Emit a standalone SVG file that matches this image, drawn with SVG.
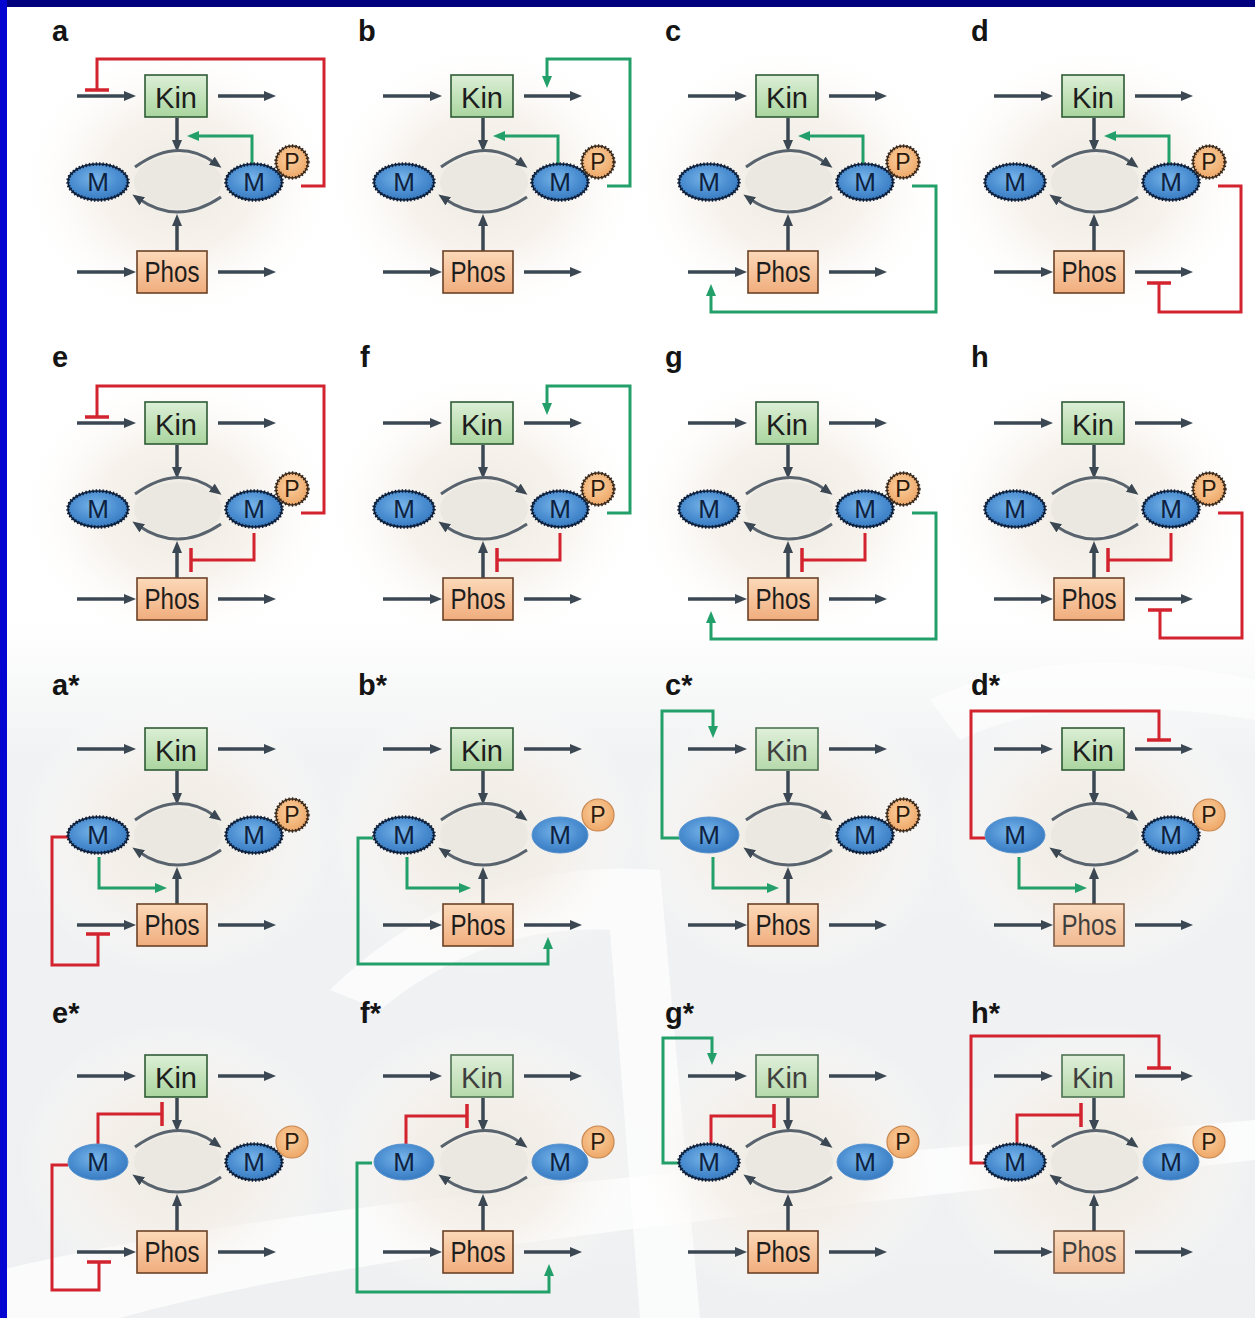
<svg xmlns="http://www.w3.org/2000/svg" xmlns:xlink="http://www.w3.org/1999/xlink" width="1255" height="1318" viewBox="0 0 1255 1318">
<defs>
  <style>
    .lbl{font-family:"Liberation Sans",Arial,sans-serif;font-weight:bold;font-size:29px;fill:#141414}
    .kt{font-family:"Liberation Sans",Arial,sans-serif;font-size:30px;fill:#1d1d1d;text-anchor:middle}
    .mt{font-family:"Liberation Sans",Arial,sans-serif;font-size:26px;fill:#0e2240;text-anchor:middle}
    .pt{font-family:"Liberation Sans",Arial,sans-serif;font-size:23px;fill:#2a1a0e;text-anchor:middle}
    .kin{fill:url(#gk);stroke:#2e5b35;stroke-width:1.6}
    .phos{fill:url(#gp);stroke:#6b4126;stroke-width:1.6}
    .glow{fill:url(#glow)}
    .core{fill:#eae8e1}
    .mw{fill:url(#gm);stroke:#0d1f3a;stroke-width:1.6}
    .mwd{fill:none;stroke:#0d1f3a;stroke-width:3.6;stroke-dasharray:1.4 2}
    .ms{fill:url(#gm);stroke:#5b95cf;stroke-width:1}
    .pw{fill:url(#gpc);stroke:#3b2a1c;stroke-width:1.4}
    .pwd{fill:none;stroke:#3b2a1c;stroke-width:3.4;stroke-dasharray:1.4 2}
    .ps{fill:url(#gpc);stroke:#c8874f;stroke-width:1.2}
    .ar{fill:none;stroke:#3b4853;stroke-width:3.5;marker-end:url(#ah)}
    .arc{fill:none;stroke:#58636d;stroke-width:3;marker-end:url(#ah)}
    .gr{fill:none;stroke:#23a06a;stroke-width:3;marker-end:url(#ahg)}
    .rd{fill:none;stroke:#d2232e;stroke-width:3;marker-end:url(#tb)}
    .fd{opacity:.84}
    .wm{fill:#e6e8ea}
  </style>
  <linearGradient id="gk" x1="0" y1="0" x2="0" y2="1">
    <stop offset="0" stop-color="#dcefd6"/>
    <stop offset="1" stop-color="#aad59f"/>
  </linearGradient>
  <linearGradient id="gp" x1="0" y1="0" x2="0" y2="1">
    <stop offset="0" stop-color="#fcd9b9"/>
    <stop offset="1" stop-color="#f0ad7d"/>
  </linearGradient>
  <radialGradient id="gm" cx=".45" cy=".4" r=".65">
    <stop offset="0" stop-color="#78b5ea"/>
    <stop offset=".6" stop-color="#4a8dd0"/>
    <stop offset="1" stop-color="#3477be"/>
  </radialGradient>
  <radialGradient id="gpc" cx=".45" cy=".4" r=".6">
    <stop offset="0" stop-color="#fbcf9f"/>
    <stop offset="1" stop-color="#eea868"/>
  </radialGradient>
  <radialGradient id="glow" cx=".5" cy=".5" r=".5">
    <stop offset="0" stop-color="#ece9e2"/>
    <stop offset=".5" stop-color="#f5efe8" stop-opacity=".8"/>
    <stop offset="1" stop-color="#ffffff" stop-opacity="0"/>
  </radialGradient>
  <linearGradient id="wash" x1="0" y1="0" x2="0" y2="1">
    <stop offset="0" stop-color="#f1f2f3" stop-opacity="0"/>
    <stop offset=".2" stop-color="#f1f2f3"/>
    <stop offset="1" stop-color="#eff0f1"/>
  </linearGradient>
  <marker id="ah" viewBox="0 0 12 10" refX="4" refY="5" markerWidth="12" markerHeight="10" markerUnits="userSpaceOnUse" orient="auto">
    <path d="M0,0L12,5L0,10z" fill="#3b4853"/>
  </marker>
  <marker id="ahg" viewBox="0 0 12 10" refX="4" refY="5" markerWidth="12" markerHeight="10" markerUnits="userSpaceOnUse" orient="auto">
    <path d="M0,0L12,5L0,10z" fill="#23a06a"/>
  </marker>
  <marker id="tb" viewBox="0 0 4 24" refX="2" refY="12" markerWidth="4" markerHeight="24" markerUnits="userSpaceOnUse" orient="auto">
    <rect x="0.25" y="0" width="3.5" height="24" fill="#d2232e"/>
  </marker>
  <!-- shared skeleton of each motif: inputs/outputs, Kin/Phos actions and the M cycle -->
  <g id="base">
    <path class="ar" d="M77,96H128"/>
    <path class="ar" d="M218,96H268"/>
    <path class="ar" d="M177,118V144"/>
    <path class="ar" d="M77,272H128"/>
    <path class="ar" d="M218,272H268"/>
    <path class="ar" d="M177,251V222"/>
    <path class="arc" d="M135,167Q178,136 215,163"/>
    <path class="arc" d="M221,197Q178,226 139,199"/>
  </g>
</defs>

<rect width="1255" height="1318" fill="#ffffff"/>

<!-- faint grey backdrop in the lower half -->
<g id="backdrop">
  <rect x="0" y="620" width="1255" height="698" fill="url(#wash)"/>
  <path fill="#ffffff" opacity=".75" d="M0,1318L0,1270C300,1200 700,1170 1255,1120L1255,1160C760,1215 360,1250 120,1318Z"/>
  <path fill="#ffffff" opacity=".7" d="M330,990C420,900 540,860 660,870L700,1318L640,1318L610,930C520,925 440,960 380,1010Z"/>
  <path fill="#ffffff" opacity=".6" d="M930,700C1010,660 1120,650 1255,680L1255,720C1130,700 1030,705 960,740Z"/>
</g>

<!-- soft halos behind each motif -->
<g id="halos">
  <ellipse class="glow" cx="178" cy="182" rx="160" ry="140"/>
  <ellipse class="glow" cx="484" cy="182" rx="160" ry="140"/>
  <ellipse class="glow" cx="789" cy="182" rx="160" ry="140"/>
  <ellipse class="glow" cx="1095" cy="182" rx="160" ry="140"/>
  <ellipse class="glow" cx="178" cy="509" rx="160" ry="140"/>
  <ellipse class="glow" cx="484" cy="509" rx="160" ry="140"/>
  <ellipse class="glow" cx="789" cy="509" rx="160" ry="140"/>
  <ellipse class="glow" cx="1095" cy="509" rx="160" ry="140"/>
  <ellipse class="glow" cx="178" cy="835" rx="160" ry="140"/>
  <ellipse class="glow" cx="484" cy="835" rx="160" ry="140"/>
  <ellipse class="glow" cx="789" cy="835" rx="160" ry="140"/>
  <ellipse class="glow" cx="1095" cy="835" rx="160" ry="140"/>
  <ellipse class="glow" cx="178" cy="1162" rx="160" ry="140"/>
  <ellipse class="glow" cx="484" cy="1162" rx="160" ry="140"/>
  <ellipse class="glow" cx="789" cy="1162" rx="160" ry="140"/>
  <ellipse class="glow" cx="1095" cy="1162" rx="160" ry="140"/>
</g>

<!-- ===== row 1 ===== -->
<g id="panel-a" transform="translate(0,0)">
  <ellipse class="core" cx="178" cy="182" rx="44" ry="27"/>
  <text class="lbl" x="52" y="41">a</text>
  <g id="a-links">
    <use xlink:href="#base"/>
    <path class="gr" d="M252,164V136H195"/>
    <path class="rd" d="M301,186H324V59H97V90"/>
  </g>
  <g id="a-kin"><rect class="kin" x="145" y="75" width="62" height="42"/><text class="kt" x="176" y="108" textLength="42" lengthAdjust="spacingAndGlyphs">Kin</text></g>
  <g id="a-phos"><rect class="phos" x="137" y="251" width="70" height="42"/><text class="kt" x="172" y="282" textLength="55" lengthAdjust="spacingAndGlyphs">Phos</text></g>
  <g id="a-m"><ellipse class="mw" cx="98" cy="182" rx="30" ry="18"/><ellipse class="mwd" cx="98" cy="182" rx="30" ry="18"/><text class="mt" x="98" y="191">M</text></g>
  <g id="a-mp"><ellipse class="mw" cx="254" cy="182" rx="28" ry="18"/><ellipse class="mwd" cx="254" cy="182" rx="28" ry="18"/><text class="mt" x="254" y="191">M</text><circle class="pw" cx="292" cy="162" r="16"/><circle class="pwd" cx="292" cy="162" r="16"/><text class="pt" x="292" y="170">P</text></g>
</g>

<g id="panel-b" transform="translate(306,0)">
  <ellipse class="core" cx="178" cy="182" rx="44" ry="27"/>
  <text class="lbl" x="52" y="41">b</text>
  <g id="b-links">
    <use xlink:href="#base"/>
    <path class="gr" d="M252,164V136H195"/>
    <path class="gr" d="M301,186H324V59H241V80"/>
  </g>
  <g id="b-kin"><rect class="kin" x="145" y="75" width="62" height="42"/><text class="kt" x="176" y="108" textLength="42" lengthAdjust="spacingAndGlyphs">Kin</text></g>
  <g id="b-phos"><rect class="phos" x="137" y="251" width="70" height="42"/><text class="kt" x="172" y="282" textLength="55" lengthAdjust="spacingAndGlyphs">Phos</text></g>
  <g id="b-m"><ellipse class="mw" cx="98" cy="182" rx="30" ry="18"/><ellipse class="mwd" cx="98" cy="182" rx="30" ry="18"/><text class="mt" x="98" y="191">M</text></g>
  <g id="b-mp"><ellipse class="mw" cx="254" cy="182" rx="28" ry="18"/><ellipse class="mwd" cx="254" cy="182" rx="28" ry="18"/><text class="mt" x="254" y="191">M</text><circle class="pw" cx="292" cy="162" r="16"/><circle class="pwd" cx="292" cy="162" r="16"/><text class="pt" x="292" y="170">P</text></g>
</g>

<g id="panel-c" transform="translate(611,0)">
  <ellipse class="core" cx="178" cy="182" rx="44" ry="27"/>
  <text class="lbl" x="54" y="41">c</text>
  <g id="c-links">
    <use xlink:href="#base"/>
    <path class="gr" d="M252,164V136H195"/>
    <path class="gr" d="M301,186H325V312H100V292"/>
  </g>
  <g id="c-kin"><rect class="kin" x="145" y="75" width="62" height="42"/><text class="kt" x="176" y="108" textLength="42" lengthAdjust="spacingAndGlyphs">Kin</text></g>
  <g id="c-phos"><rect class="phos" x="137" y="251" width="70" height="42"/><text class="kt" x="172" y="282" textLength="55" lengthAdjust="spacingAndGlyphs">Phos</text></g>
  <g id="c-m"><ellipse class="mw" cx="98" cy="182" rx="30" ry="18"/><ellipse class="mwd" cx="98" cy="182" rx="30" ry="18"/><text class="mt" x="98" y="191">M</text></g>
  <g id="c-mp"><ellipse class="mw" cx="254" cy="182" rx="28" ry="18"/><ellipse class="mwd" cx="254" cy="182" rx="28" ry="18"/><text class="mt" x="254" y="191">M</text><circle class="pw" cx="292" cy="162" r="16"/><circle class="pwd" cx="292" cy="162" r="16"/><text class="pt" x="292" y="170">P</text></g>
</g>

<g id="panel-d" transform="translate(917,0)">
  <ellipse class="core" cx="178" cy="182" rx="44" ry="27"/>
  <text class="lbl" x="54" y="41">d</text>
  <g id="d-links">
    <use xlink:href="#base"/>
    <path class="gr" d="M252,164V136H195"/>
    <path class="rd" d="M301,186H324V312H242V283"/>
  </g>
  <g id="d-kin"><rect class="kin" x="145" y="75" width="62" height="42"/><text class="kt" x="176" y="108" textLength="42" lengthAdjust="spacingAndGlyphs">Kin</text></g>
  <g id="d-phos"><rect class="phos" x="137" y="251" width="70" height="42"/><text class="kt" x="172" y="282" textLength="55" lengthAdjust="spacingAndGlyphs">Phos</text></g>
  <g id="d-m"><ellipse class="mw" cx="98" cy="182" rx="30" ry="18"/><ellipse class="mwd" cx="98" cy="182" rx="30" ry="18"/><text class="mt" x="98" y="191">M</text></g>
  <g id="d-mp"><ellipse class="mw" cx="254" cy="182" rx="28" ry="18"/><ellipse class="mwd" cx="254" cy="182" rx="28" ry="18"/><text class="mt" x="254" y="191">M</text><circle class="pw" cx="292" cy="162" r="16"/><circle class="pwd" cx="292" cy="162" r="16"/><text class="pt" x="292" y="170">P</text></g>
</g>

<!-- ===== row 2 ===== -->
<g id="panel-e" transform="translate(0,327)">
  <ellipse class="core" cx="178" cy="182" rx="44" ry="27"/>
  <text class="lbl" x="52" y="40">e</text>
  <g id="e-links">
    <use xlink:href="#base"/>
    <path class="rd" d="M254,206V233H191"/>
    <path class="rd" d="M301,186H324V59H97V90"/>
  </g>
  <g id="e-kin"><rect class="kin" x="145" y="75" width="62" height="42"/><text class="kt" x="176" y="108" textLength="42" lengthAdjust="spacingAndGlyphs">Kin</text></g>
  <g id="e-phos"><rect class="phos" x="137" y="251" width="70" height="42"/><text class="kt" x="172" y="282" textLength="55" lengthAdjust="spacingAndGlyphs">Phos</text></g>
  <g id="e-m"><ellipse class="mw" cx="98" cy="182" rx="30" ry="18"/><ellipse class="mwd" cx="98" cy="182" rx="30" ry="18"/><text class="mt" x="98" y="191">M</text></g>
  <g id="e-mp"><ellipse class="mw" cx="254" cy="182" rx="28" ry="18"/><ellipse class="mwd" cx="254" cy="182" rx="28" ry="18"/><text class="mt" x="254" y="191">M</text><circle class="pw" cx="292" cy="162" r="16"/><circle class="pwd" cx="292" cy="162" r="16"/><text class="pt" x="292" y="170">P</text></g>
</g>

<g id="panel-f" transform="translate(306,327)">
  <ellipse class="core" cx="178" cy="182" rx="44" ry="27"/>
  <text class="lbl" x="54" y="40">f</text>
  <g id="f-links">
    <use xlink:href="#base"/>
    <path class="rd" d="M254,206V233H191"/>
    <path class="gr" d="M301,186H324V59H241V80"/>
  </g>
  <g id="f-kin"><rect class="kin" x="145" y="75" width="62" height="42"/><text class="kt" x="176" y="108" textLength="42" lengthAdjust="spacingAndGlyphs">Kin</text></g>
  <g id="f-phos"><rect class="phos" x="137" y="251" width="70" height="42"/><text class="kt" x="172" y="282" textLength="55" lengthAdjust="spacingAndGlyphs">Phos</text></g>
  <g id="f-m"><ellipse class="mw" cx="98" cy="182" rx="30" ry="18"/><ellipse class="mwd" cx="98" cy="182" rx="30" ry="18"/><text class="mt" x="98" y="191">M</text></g>
  <g id="f-mp"><ellipse class="mw" cx="254" cy="182" rx="28" ry="18"/><ellipse class="mwd" cx="254" cy="182" rx="28" ry="18"/><text class="mt" x="254" y="191">M</text><circle class="pw" cx="292" cy="162" r="16"/><circle class="pwd" cx="292" cy="162" r="16"/><text class="pt" x="292" y="170">P</text></g>
</g>

<g id="panel-g" transform="translate(611,327)">
  <ellipse class="core" cx="178" cy="182" rx="44" ry="27"/>
  <text class="lbl" x="54" y="40">g</text>
  <g id="g-links">
    <use xlink:href="#base"/>
    <path class="rd" d="M254,206V233H191"/>
    <path class="gr" d="M301,186H325V312H100V292"/>
  </g>
  <g id="g-kin"><rect class="kin" x="145" y="75" width="62" height="42"/><text class="kt" x="176" y="108" textLength="42" lengthAdjust="spacingAndGlyphs">Kin</text></g>
  <g id="g-phos"><rect class="phos" x="137" y="251" width="70" height="42"/><text class="kt" x="172" y="282" textLength="55" lengthAdjust="spacingAndGlyphs">Phos</text></g>
  <g id="g-m"><ellipse class="mw" cx="98" cy="182" rx="30" ry="18"/><ellipse class="mwd" cx="98" cy="182" rx="30" ry="18"/><text class="mt" x="98" y="191">M</text></g>
  <g id="g-mp"><ellipse class="mw" cx="254" cy="182" rx="28" ry="18"/><ellipse class="mwd" cx="254" cy="182" rx="28" ry="18"/><text class="mt" x="254" y="191">M</text><circle class="pw" cx="292" cy="162" r="16"/><circle class="pwd" cx="292" cy="162" r="16"/><text class="pt" x="292" y="170">P</text></g>
</g>

<g id="panel-h" transform="translate(917,327)">
  <ellipse class="core" cx="178" cy="182" rx="44" ry="27"/>
  <text class="lbl" x="54" y="40">h</text>
  <g id="h-links">
    <use xlink:href="#base"/>
    <path class="rd" d="M254,206V233H191"/>
    <path class="rd" d="M301,186H325V311H243V283"/>
  </g>
  <g id="h-kin"><rect class="kin" x="145" y="75" width="62" height="42"/><text class="kt" x="176" y="108" textLength="42" lengthAdjust="spacingAndGlyphs">Kin</text></g>
  <g id="h-phos"><rect class="phos" x="137" y="251" width="70" height="42"/><text class="kt" x="172" y="282" textLength="55" lengthAdjust="spacingAndGlyphs">Phos</text></g>
  <g id="h-m"><ellipse class="mw" cx="98" cy="182" rx="30" ry="18"/><ellipse class="mwd" cx="98" cy="182" rx="30" ry="18"/><text class="mt" x="98" y="191">M</text></g>
  <g id="h-mp"><ellipse class="mw" cx="254" cy="182" rx="28" ry="18"/><ellipse class="mwd" cx="254" cy="182" rx="28" ry="18"/><text class="mt" x="254" y="191">M</text><circle class="pw" cx="292" cy="162" r="16"/><circle class="pwd" cx="292" cy="162" r="16"/><text class="pt" x="292" y="170">P</text></g>
</g>

<!-- ===== row 3 ===== -->
<g id="panel-a2" transform="translate(0,653)">
  <ellipse class="core" cx="178" cy="182" rx="44" ry="27"/>
  <text class="lbl" x="52" y="42">a*</text>
  <g id="a2-links">
    <use xlink:href="#base"/>
    <path class="gr" d="M99,204V235H159"/>
    <path class="rd" d="M68,184H52V312H98V281"/>
  </g>
  <g id="a2-kin"><rect class="kin" x="145" y="75" width="62" height="42"/><text class="kt" x="176" y="108" textLength="42" lengthAdjust="spacingAndGlyphs">Kin</text></g>
  <g id="a2-phos"><rect class="phos" x="137" y="251" width="70" height="42"/><text class="kt" x="172" y="282" textLength="55" lengthAdjust="spacingAndGlyphs">Phos</text></g>
  <g id="a2-m"><ellipse class="mw" cx="98" cy="182" rx="30" ry="18"/><ellipse class="mwd" cx="98" cy="182" rx="30" ry="18"/><text class="mt" x="98" y="191">M</text></g>
  <g id="a2-mp"><ellipse class="mw" cx="254" cy="182" rx="28" ry="18"/><ellipse class="mwd" cx="254" cy="182" rx="28" ry="18"/><text class="mt" x="254" y="191">M</text><circle class="pw" cx="292" cy="162" r="16"/><circle class="pwd" cx="292" cy="162" r="16"/><text class="pt" x="292" y="170">P</text></g>
</g>

<g id="panel-b2" transform="translate(306,653)">
  <ellipse class="core" cx="178" cy="182" rx="44" ry="27"/>
  <text class="lbl" x="52" y="42">b*</text>
  <g id="b2-links">
    <use xlink:href="#base"/>
    <path class="gr" d="M101,204V235H157"/>
    <path class="gr" d="M67,185H52V311H242V292"/>
  </g>
  <g id="b2-kin"><rect class="kin" x="145" y="75" width="62" height="42"/><text class="kt" x="176" y="108" textLength="42" lengthAdjust="spacingAndGlyphs">Kin</text></g>
  <g id="b2-phos"><rect class="phos" x="137" y="251" width="70" height="42"/><text class="kt" x="172" y="282" textLength="55" lengthAdjust="spacingAndGlyphs">Phos</text></g>
  <g id="b2-m"><ellipse class="mw" cx="98" cy="182" rx="30" ry="18"/><ellipse class="mwd" cx="98" cy="182" rx="30" ry="18"/><text class="mt" x="98" y="191">M</text></g>
  <g id="b2-mp"><ellipse class="ms" cx="254" cy="182" rx="28" ry="18"/><text class="mt" x="254" y="191">M</text><circle class="ps" cx="292" cy="162" r="16"/><text class="pt" x="292" y="170">P</text></g>
</g>

<g id="panel-c2" transform="translate(611,653)">
  <ellipse class="core" cx="178" cy="182" rx="44" ry="27"/>
  <text class="lbl" x="54" y="42">c*</text>
  <g id="c2-links">
    <use xlink:href="#base"/>
    <path class="gr" d="M102,204V235H160"/>
    <path class="gr" d="M70,185H51V58H102V77"/>
  </g>
  <g id="c2-kin" class="fd"><rect class="kin" x="145" y="75" width="62" height="42"/><text class="kt" x="176" y="108" textLength="42" lengthAdjust="spacingAndGlyphs">Kin</text></g>
  <g id="c2-phos"><rect class="phos" x="137" y="251" width="70" height="42"/><text class="kt" x="172" y="282" textLength="55" lengthAdjust="spacingAndGlyphs">Phos</text></g>
  <g id="c2-m"><ellipse class="ms" cx="98" cy="182" rx="30" ry="18"/><text class="mt" x="98" y="191">M</text></g>
  <g id="c2-mp"><ellipse class="mw" cx="254" cy="182" rx="28" ry="18"/><ellipse class="mwd" cx="254" cy="182" rx="28" ry="18"/><text class="mt" x="254" y="191">M</text><circle class="pw" cx="292" cy="162" r="16"/><circle class="pwd" cx="292" cy="162" r="16"/><text class="pt" x="292" y="170">P</text></g>
</g>

<g id="panel-d2" transform="translate(917,653)">
  <ellipse class="core" cx="178" cy="182" rx="44" ry="27"/>
  <text class="lbl" x="54" y="42">d*</text>
  <g id="d2-links">
    <use xlink:href="#base"/>
    <path class="gr" d="M102,204V235H162"/>
    <path class="rd" d="M72,185H54V58H242V87"/>
  </g>
  <g id="d2-kin"><rect class="kin" x="145" y="75" width="62" height="42"/><text class="kt" x="176" y="108" textLength="42" lengthAdjust="spacingAndGlyphs">Kin</text></g>
  <g id="d2-phos" class="fd"><rect class="phos" x="137" y="251" width="70" height="42"/><text class="kt" x="172" y="282" textLength="55" lengthAdjust="spacingAndGlyphs">Phos</text></g>
  <g id="d2-m"><ellipse class="ms" cx="98" cy="182" rx="30" ry="18"/><text class="mt" x="98" y="191">M</text></g>
  <g id="d2-mp"><ellipse class="mw" cx="254" cy="182" rx="28" ry="18"/><ellipse class="mwd" cx="254" cy="182" rx="28" ry="18"/><text class="mt" x="254" y="191">M</text><circle class="ps" cx="292" cy="162" r="16"/><text class="pt" x="292" y="170">P</text></g>
</g>

<!-- ===== row 4 ===== -->
<g id="panel-e2" transform="translate(0,980)">
  <ellipse class="core" cx="178" cy="182" rx="44" ry="27"/>
  <text class="lbl" x="52" y="43">e*</text>
  <g id="e2-links">
    <use xlink:href="#base"/>
    <path class="rd" d="M98,164V134H162"/>
    <path class="rd" d="M68,185H52V310H99V282"/>
  </g>
  <g id="e2-kin"><rect class="kin" x="145" y="75" width="62" height="42"/><text class="kt" x="176" y="108" textLength="42" lengthAdjust="spacingAndGlyphs">Kin</text></g>
  <g id="e2-phos"><rect class="phos" x="137" y="251" width="70" height="42"/><text class="kt" x="172" y="282" textLength="55" lengthAdjust="spacingAndGlyphs">Phos</text></g>
  <g id="e2-m"><ellipse class="ms" cx="98" cy="182" rx="30" ry="18"/><text class="mt" x="98" y="191">M</text></g>
  <g id="e2-mp"><ellipse class="mw" cx="254" cy="182" rx="28" ry="18"/><ellipse class="mwd" cx="254" cy="182" rx="28" ry="18"/><text class="mt" x="254" y="191">M</text><circle class="ps" cx="292" cy="162" r="16"/><text class="pt" x="292" y="170">P</text></g>
</g>

<g id="panel-f2" transform="translate(306,980)">
  <ellipse class="core" cx="178" cy="182" rx="44" ry="27"/>
  <text class="lbl" x="54" y="43">f*</text>
  <g id="f2-links">
    <use xlink:href="#base"/>
    <path class="rd" d="M100,164V136H161"/>
    <path class="gr" d="M66,183H51V312H243V292"/>
  </g>
  <g id="f2-kin" class="fd"><rect class="kin" x="145" y="75" width="62" height="42"/><text class="kt" x="176" y="108" textLength="42" lengthAdjust="spacingAndGlyphs">Kin</text></g>
  <g id="f2-phos"><rect class="phos" x="137" y="251" width="70" height="42"/><text class="kt" x="172" y="282" textLength="55" lengthAdjust="spacingAndGlyphs">Phos</text></g>
  <g id="f2-m"><ellipse class="ms" cx="98" cy="182" rx="30" ry="18"/><text class="mt" x="98" y="191">M</text></g>
  <g id="f2-mp"><ellipse class="ms" cx="254" cy="182" rx="28" ry="18"/><text class="mt" x="254" y="191">M</text><circle class="ps" cx="292" cy="162" r="16"/><text class="pt" x="292" y="170">P</text></g>
</g>

<g id="panel-g2" transform="translate(611,980)">
  <ellipse class="core" cx="178" cy="182" rx="44" ry="27"/>
  <text class="lbl" x="54" y="43">g*</text>
  <g id="g2-links">
    <use xlink:href="#base"/>
    <path class="rd" d="M100,164V136H163"/>
    <path class="gr" d="M70,183H52V58H101V77"/>
  </g>
  <g id="g2-kin" class="fd"><rect class="kin" x="145" y="75" width="62" height="42"/><text class="kt" x="176" y="108" textLength="42" lengthAdjust="spacingAndGlyphs">Kin</text></g>
  <g id="g2-phos"><rect class="phos" x="137" y="251" width="70" height="42"/><text class="kt" x="172" y="282" textLength="55" lengthAdjust="spacingAndGlyphs">Phos</text></g>
  <g id="g2-m"><ellipse class="mw" cx="98" cy="182" rx="30" ry="18"/><ellipse class="mwd" cx="98" cy="182" rx="30" ry="18"/><text class="mt" x="98" y="191">M</text></g>
  <g id="g2-mp"><ellipse class="ms" cx="254" cy="182" rx="28" ry="18"/><text class="mt" x="254" y="191">M</text><circle class="ps" cx="292" cy="162" r="16"/><text class="pt" x="292" y="170">P</text></g>
</g>

<g id="panel-h2" transform="translate(917,980)">
  <ellipse class="core" cx="178" cy="182" rx="44" ry="27"/>
  <text class="lbl" x="54" y="43">h*</text>
  <g id="h2-links">
    <use xlink:href="#base"/>
    <path class="rd" d="M100,164V135H164"/>
    <path class="rd" d="M72,183H54V56H242V88"/>
  </g>
  <g id="h2-kin" class="fd"><rect class="kin" x="145" y="75" width="62" height="42"/><text class="kt" x="176" y="108" textLength="42" lengthAdjust="spacingAndGlyphs">Kin</text></g>
  <g id="h2-phos" class="fd"><rect class="phos" x="137" y="251" width="70" height="42"/><text class="kt" x="172" y="282" textLength="55" lengthAdjust="spacingAndGlyphs">Phos</text></g>
  <g id="h2-m"><ellipse class="mw" cx="98" cy="182" rx="30" ry="18"/><ellipse class="mwd" cx="98" cy="182" rx="30" ry="18"/><text class="mt" x="98" y="191">M</text></g>
  <g id="h2-mp"><ellipse class="ms" cx="254" cy="182" rx="28" ry="18"/><text class="mt" x="254" y="191">M</text><circle class="ps" cx="292" cy="162" r="16"/><text class="pt" x="292" y="170">P</text></g>
</g>

<!-- frame edges -->
<rect x="0" y="0" width="1255" height="7" fill="#00007f"/>
<rect x="0" y="0" width="7" height="1318" fill="#0505d2"/>
</svg>
